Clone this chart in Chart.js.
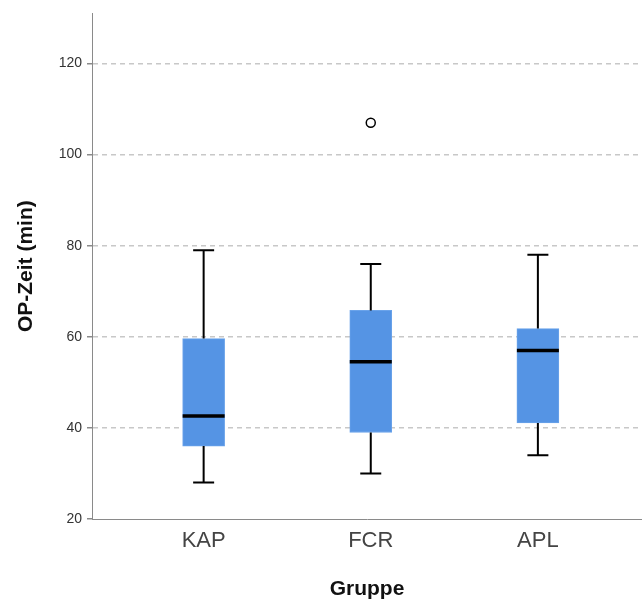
<!DOCTYPE html>
<html>
<head>
<meta charset="utf-8">
<script src="https://cdn.jsdelivr.net/npm/chart.js@4"></script>
<style>
 body { margin: 0; background: #fff; }
</style>
</head>
<body>
<canvas id="opChart" width="642" height="605"></canvas>
<script>
// Boxplot Werte je Gruppe
const groups = ['KAP', 'FCR', 'APL'];
const whiskerLow = [28, 30, 34];
const q1 = [36, 39, 41.1];
const median = [42.6, 54.5, 57];
const q3 = [59.6, 65.8, 61.8];
const whiskerHigh = [79, 76, 78];
const outlierGroups = ['FCR'];
const outlierValues = [107];
const yTicks = [20, 40, 60, 80, 100, 120];

const FONT = '"Liberation Sans", Arial, sans-serif';

// Whisker, Kappen und Median ueber die Skalen zeichnen
const boxplotLines = {
 id: 'boxplotLines',
 afterDatasetsDraw(chart) {
  const ctx = chart.ctx;
  const x = chart.scales.x;
  const y = chart.scales.y;
  ctx.save();
  ctx.strokeStyle = '#000';
  groups.forEach((g, i) => {
   const cx = x.getPixelForValue(i + 1);
   const bar = chart.getDatasetMeta(0).data[i];
   const half = bar.width / 2;
   // Whisker
   ctx.lineWidth = 2;
   ctx.beginPath();
   ctx.moveTo(cx, y.getPixelForValue(q3[i]));
   ctx.lineTo(cx, y.getPixelForValue(whiskerHigh[i]));
   ctx.moveTo(cx, y.getPixelForValue(q1[i]));
   ctx.lineTo(cx, y.getPixelForValue(whiskerLow[i]));
   // Kappen
   ctx.moveTo(cx - half / 2, y.getPixelForValue(whiskerHigh[i]));
   ctx.lineTo(cx + half / 2, y.getPixelForValue(whiskerHigh[i]));
   ctx.moveTo(cx - half / 2, y.getPixelForValue(whiskerLow[i]));
   ctx.lineTo(cx + half / 2, y.getPixelForValue(whiskerLow[i]));
   ctx.stroke();
   // Median
   ctx.lineWidth = 3.5;
   ctx.beginPath();
   ctx.moveTo(cx - half, y.getPixelForValue(median[i]));
   ctx.lineTo(cx + half, y.getPixelForValue(median[i]));
   ctx.stroke();
  });
  ctx.restore();
 }
};

new Chart(document.getElementById('opChart'), {
 type: 'bar',
 data: {
  datasets: [{
   label: 'Box',
   data: groups.map((g, i) => ({ x: i + 1, y: [q1[i], q3[i]] })),
   backgroundColor: '#5594e4',
   borderColor: '#6aa3ea',
   borderWidth: 1,
   borderSkipped: false,
   barThickness: 42
  }, {
   type: 'scatter',
   label: 'Ausreißer',
   data: outlierGroups.map((g, i) => ({ x: groups.indexOf(g) + 1, y: outlierValues[i] })),
   pointStyle: 'circle',
   pointRadius: 4.5,
   backgroundColor: '#fff',
   borderColor: '#000',
   borderWidth: 1.5
  }]
 },
 options: {
  responsive: false,
  animation: false,
  layout: { autoPadding: false, padding: { top: 10, right: 0, left: 0, bottom: 0 } },
  plugins: {
   legend: { display: false },
   tooltip: { enabled: false }
  },
  scales: {
   x: {
    type: 'linear',
    offset: false,
    min: 0.332,
    max: 3.623,
    afterBuildTicks: s => { s.ticks = groups.map((g, i) => ({ value: i + 1 })); },
    afterFit: s => { s.height = 86; s.paddingRight = 0; s.paddingLeft = 0; },
    ticks: {
     callback: v => groups[v - 1] || '',
     font: { family: FONT, size: 22 },
     color: '#444',
     padding: 9,
     maxRotation: 0
    },
    grid: { display: false, drawTicks: false, offset: false },
    border: { display: true, color: '#8a8a8a', width: 1 },
    title: {
     display: true,
     text: 'Gruppe',
     font: { family: FONT, size: 21, weight: 'bold' },
     color: '#111',
     padding: { bottom: 3 }
    }
   },
   y: {
    min: 20,
    max: 131,
    afterBuildTicks: s => { s.ticks = yTicks.map(v => ({ value: v })); },
    afterFit: s => { s.width = 92; },
    ticks: {
     font: { family: FONT, size: 14 },
     color: '#333',
     padding: 5
    },
    grid: {
     color: c => (c.tick && c.tick.value === 20) ? 'rgba(0,0,0,0)' : '#c8c8c8',
     lineWidth: 1.5,
     tickColor: '#8a8a8a',
     tickLength: 5,
     drawTicks: true
    },
    border: { display: true, color: '#8a8a8a', width: 1, dash: [5, 4] },
    title: {
     display: true,
     text: 'OP-Zeit (min)',
     font: { family: FONT, size: 21, weight: 'bold' },
     color: '#111',
     padding: { top: 14 }
    }
   }
  }
 },
 plugins: [boxplotLines]
});
</script>
</body>
</html>
